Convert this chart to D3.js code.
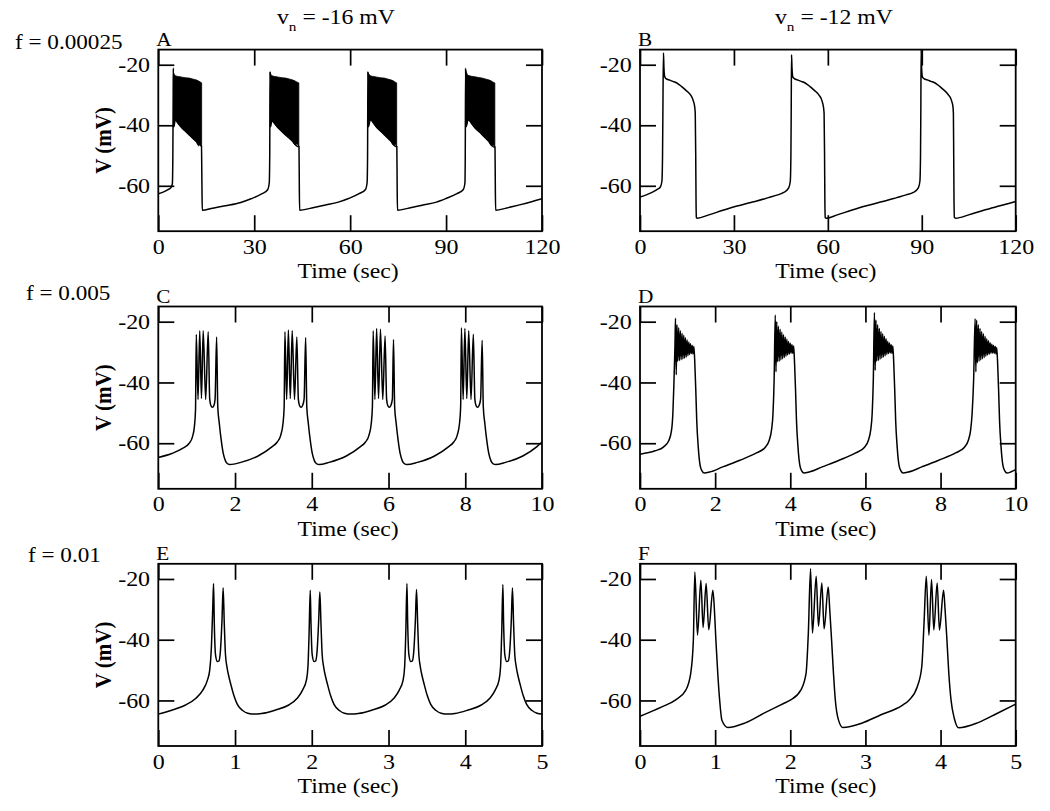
<!DOCTYPE html>
<html><head><meta charset="utf-8">
<script src="https://cdn.jsdelivr.net/npm/d3@7"></script>
<style>
body{margin:0;background:#fff}
svg text{font-family:"Liberation Serif","Times New Roman",serif;fill:#000}
</style>
</head><body>
<svg id="chart" width="1050" height="811"></svg>
<script>
// ---------------- DATA ----------------
const yDomain = [-75, -15];
const yTicks = [-20, -40, -60];
const xDomainA = [0, 120], xTicksA = [0, 30, 60, 90, 120];
const xDomainC = [0, 10],  xTicksC = [0, 2, 4, 6, 8, 10];
const xDomainE = [0, 5],   xTicksE = [0, 1, 2, 3, 4, 5];
const panelLetters = ["A", "B", "C", "D", "E", "F"];
const rowLabels = ["f = 0.00025", "f = 0.005", "f = 0.01"];
const columnTitles = ["-16 mV", "-12 mV"];

// Panel A: [time (s), V (mV)]
const traceA = [
 [0,-62.6],[1.5,-62.1],[3,-61.3],[4.0,-60.5],[4.4,-59.3],[4.55,-50],[4.65,-30],[4.7,-21.1],[4.85,-40.5],[5.3,-38.3],[6.3,-39.5],[7.4,-40.9],[8.5,-42.0],[9.6,-43.1],[10.7,-44.2],[11.8,-45.3],[12.8,-46.3],[13.5,-47.0],[13.65,-60],[13.75,-68.1],
 [17,-67.4],[21,-66.6],[25.8,-65.5],[29,-64.3],[32.3,-62.7],[34.2,-61.3],[34.7,-59.0],[34.85,-50],[34.95,-22.2],[35.1,-40.5],[35.5,-38.6],[37.6,-41.0],[39.8,-43.2],[41.9,-45.2],[43.6,-47.0],[44.0,-47.0],[44.1,-60],[44.2,-68.1],
 [48,-67.3],[52,-66.4],[56.3,-65.4],[59.5,-64.2],[62.8,-62.6],[64.8,-61.2],[65.3,-59.0],[65.45,-50],[65.55,-22.2],[65.7,-40.5],[66.3,-38.2],[68.4,-40.8],[70.6,-43.0],[72.7,-45.2],[74.3,-47.0],[74.6,-47.0],[74.7,-60],[74.8,-68.1],
 [78.5,-67.3],[82.5,-66.4],[87,-65.4],[90,-64.2],[93.4,-62.6],[95.4,-61.2],[95.9,-59.0],[96.0,-50],[96.1,-21.1],[96.25,-40.5],[96.9,-38.2],[99,-40.8],[101.2,-43.0],[103.3,-45.3],[105.0,-47.2],[105.3,-47.2],[105.4,-60],[105.5,-68.1],
 [109,-67.3],[113,-66.3],[117,-65.2],[120,-64.3]
];
// Panel A dense spiking bursts: [time, upper envelope, lower envelope]
const burstA1 = [[4.75,-22.5,-40.0],[5.3,-23.6,-38.3],[6.3,-23.9,-39.6],[7.4,-24.1,-40.9],[8.5,-24.3,-42.1],[9.6,-24.4,-43.1],[10.7,-24.7,-44.3],[11.8,-25.0,-45.4],[12.6,-25.4,-46.8],[13.0,-25.6,-46.3],[13.55,-26.0,-47.2]];
const burstA2 = [[35.0,-22.6,-40.2],[35.5,-23.6,-38.6],[36.5,-23.9,-39.8],[37.6,-24.1,-41.0],[38.7,-24.3,-42.1],[39.8,-24.4,-43.2],[40.9,-24.7,-44.2],[41.9,-25.0,-45.2],[42.8,-25.4,-46.5],[43.3,-25.7,-46.2],[43.95,-26.0,-47.0]];
const burstA3 = [[65.6,-22.6,-40.0],[66.3,-23.6,-38.2],[67.3,-23.9,-39.5],[68.4,-24.1,-40.8],[69.5,-24.3,-41.9],[70.6,-24.4,-43.0],[71.7,-24.7,-44.1],[72.7,-25.0,-45.2],[73.6,-25.4,-46.6],[74.0,-25.7,-46.3],[74.55,-26.0,-47.0]];
const burstA4 = [[96.15,-21.8,-40.0],[96.9,-23.5,-38.2],[97.9,-23.8,-39.5],[99.0,-24.0,-40.8],[100.1,-24.2,-41.9],[101.2,-24.4,-43.0],[102.3,-24.7,-44.2],[103.3,-25.0,-45.3],[104.2,-25.4,-46.8],[104.6,-25.7,-46.5],[105.25,-26.0,-47.2]];

const traceB = [
 [0,-63.7],[2,-63.0],[4,-62.1],[5.5,-61.2],[6.5,-60.4],[7.0,-58.5],[7.2,-50],[7.35,-30],[7.5,-16.1],[7.65,-21],[7.9,-24.0],[8.3,-24.6],[9.5,-25.1],[10.5,-25.5],[11.3,-25.8],[12.5,-26.6],[13.5,-27.4],[14.6,-28.4],[15.7,-29.4],[16.3,-30.2],[16.7,-31.0],[17.1,-32.2],[17.4,-33.4],[17.65,-36],[17.8,-50],[17.9,-65],[18.0,-70.5],[18.3,-70.7],
 [22,-69.6],[26.5,-68.1],[31,-66.7],[35,-65.6],[37.3,-65.0],[41,-63.9],[44,-63.0],[45.9,-62.2],[47.5,-60.7],[48.0,-58.5],[48.2,-50],[48.3,-35],[48.4,-16.7],[48.55,-21],[48.8,-24.0],[49.3,-24.6],[50.5,-25.1],[51.5,-25.5],[52.3,-25.8],[53.5,-26.6],[54.5,-27.4],[55.6,-28.4],[56.7,-29.4],[57.3,-30.2],[57.8,-31.0],[58.2,-32.2],[58.5,-33.4],[58.8,-36],[58.95,-50],[59.05,-65],[59.15,-70.5],[59.5,-70.7],
 [63,-69.6],[67.5,-68.1],[72,-66.7],[76,-65.6],[79,-64.8],[82,-63.9],[85,-63.0],[87.3,-62.2],[88.9,-60.7],[89.4,-58.5],[89.6,-50],[89.7,-35],[89.8,-15.0],[89.95,-21],[90.2,-24.0],[90.7,-24.6],[92,-25.1],[93,-25.5],[93.8,-25.8],[95,-26.6],[96,-27.4],[97.1,-28.4],[98.1,-29.4],[98.7,-30.2],[99.2,-31.0],[99.6,-32.2],[99.9,-33.4],[100.1,-36],[100.2,-50],[100.3,-65],[100.4,-70.5],[100.8,-70.7],
 [105,-69.6],[110,-68.0],[115,-66.6],[120,-65.2]
];

const traceC = [
 [0,-64.7],[0.35,-63.4],[0.62,-61.8],[0.8,-60.1],[0.89,-57.9],[0.94,-54.6],[0.97,-49],
 [0.99,-24.2],[1.035,-45.6],[1.08,-23.0],[1.125,-45.3],[1.17,-23.0],[1.235,-45.6],[1.30,-23.3],[1.34,-45.5],[1.37,-47.6],[1.41,-48.2],[1.45,-47.6],[1.48,-45.5],[1.52,-25.0],
 [1.55,-48.0],[1.59,-53.5],[1.64,-59.0],[1.69,-63.2],[1.75,-65.8],[1.81,-66.8],[1.87,-67.0],
 [2.15,-66.3],[2.6,-64.2],[2.96,-61.2],[3.1,-59.6],[3.19,-57.4],[3.25,-53.5],[3.28,-48],
 [3.30,-23.3],[3.345,-45.6],[3.39,-22.7],[3.44,-45.3],[3.49,-23.0],[3.55,-45.6],[3.61,-25.0],[3.65,-45.5],[3.68,-47.6],[3.72,-48.2],[3.76,-47.6],[3.80,-45.5],[3.84,-25.2],
 [3.87,-48.0],[3.91,-53.5],[3.96,-59.0],[4.01,-63.2],[4.07,-65.8],[4.13,-66.8],[4.19,-67.0],
 [4.45,-66.3],[4.9,-64.2],[5.26,-61.2],[5.4,-59.6],[5.49,-57.4],[5.55,-53.5],[5.58,-48],
 [5.60,-23.0],[5.645,-45.6],[5.69,-22.2],[5.74,-45.3],[5.79,-22.5],[5.85,-45.6],[5.91,-24.7],[5.95,-45.5],[5.98,-47.6],[6.02,-48.2],[6.06,-47.6],[6.10,-45.5],[6.13,-25.9],
 [6.16,-48.0],[6.20,-53.5],[6.25,-59.0],[6.30,-63.2],[6.36,-65.8],[6.42,-66.8],[6.48,-67.0],
 [6.75,-66.3],[7.2,-64.2],[7.56,-61.2],[7.7,-59.6],[7.79,-57.4],[7.85,-53.5],[7.88,-48],
 [7.90,-22.0],[7.945,-45.6],[7.99,-22.2],[8.04,-45.3],[8.09,-23.0],[8.15,-45.6],[8.21,-24.1],[8.25,-45.5],[8.28,-47.6],[8.32,-48.2],[8.36,-47.6],[8.40,-45.5],[8.44,-26.1],
 [8.47,-48.0],[8.51,-53.5],[8.56,-59.0],[8.61,-63.2],[8.67,-65.8],[8.73,-66.8],[8.79,-67.0],
 [9.05,-66.3],[9.5,-64.2],[9.86,-61.2],[10,-59.6]
];

const traceD = [
 [0,-63.6],[0.4,-62.5],[0.63,-61.2],[0.765,-59.2],[0.84,-55.7],[0.875,-50.2],[0.9,-41.4],[0.93,-28.2],
 [0.945,-18.9],[0.965,-37.5],[0.985,-21.0],[1.005,-33.0],[1.03,-22.0],[1.05,-32.8],[1.075,-23.0],[1.095,-32.5],[1.12,-23.8],[1.14,-32.3],[1.165,-24.5],[1.185,-32.0],[1.21,-25.3],[1.23,-31.6],[1.255,-26.0],[1.275,-31.2],[1.30,-26.7],[1.32,-30.8],[1.345,-27.3],[1.365,-30.5],[1.39,-27.8],[1.41,-30.6],[1.435,-28.2],
 [1.46,-34],[1.485,-42.5],[1.51,-52.5],[1.55,-61.2],[1.6,-67.3],[1.65,-69.1],[1.71,-69.8],[1.85,-69.5],[2.2,-67.8],[2.66,-65.6],[3.1,-63.2],[3.33,-61.4],[3.44,-59],[3.5,-55.7],[3.54,-50.2],[3.57,-39.2],
 [3.6,-17.8],[3.62,-36.5],[3.64,-20.0],[3.66,-33.2],[3.685,-21.5],[3.705,-33.0],[3.73,-22.5],[3.75,-32.6],[3.775,-23.4],[3.795,-32.2],[3.82,-24.3],[3.84,-31.8],[3.865,-25.0],[3.885,-31.4],[3.91,-25.8],[3.93,-31.0],[3.955,-26.5],[3.975,-30.6],[4.0,-27.1],[4.02,-30.4],[4.045,-27.6],[4.065,-30.4],[4.09,-28.0],
 [4.115,-34],[4.14,-42.5],[4.165,-52.5],[4.205,-61.2],[4.255,-67.3],[4.305,-69.1],[4.365,-69.8],[4.5,-69.5],[4.85,-67.8],[5.3,-65.6],[5.74,-63.2],[5.97,-61.4],[6.08,-59],[6.14,-55.7],[6.18,-50.2],[6.21,-39.2],
 [6.24,-17.0],[6.26,-36.0],[6.28,-19.5],[6.30,-33.0],[6.325,-21.0],[6.345,-32.8],[6.37,-22.2],[6.39,-32.4],[6.415,-23.2],[6.435,-32.0],[6.46,-24.0],[6.48,-31.6],[6.505,-24.8],[6.525,-31.2],[6.55,-25.6],[6.57,-30.8],[6.595,-26.4],[6.615,-30.5],[6.64,-27.0],[6.66,-30.3],[6.685,-27.6],[6.705,-30.4],[6.73,-28.0],
 [6.755,-34],[6.78,-42.5],[6.805,-52.5],[6.845,-61.2],[6.895,-67.3],[6.945,-69.1],[7.005,-69.8],[7.14,-69.5],[7.5,-67.8],[7.95,-65.6],[8.4,-63.2],[8.63,-61.4],[8.74,-59],[8.8,-55.7],[8.84,-50.2],[8.88,-39.2],
 [8.92,-19.0],[8.94,-36.5],[8.96,-19.5],[8.98,-33.5],[9.005,-21.0],[9.025,-33.0],[9.05,-22.2],[9.07,-32.6],[9.095,-23.2],[9.115,-32.2],[9.14,-24.0],[9.16,-31.8],[9.185,-24.8],[9.205,-31.4],[9.23,-25.6],[9.25,-31.0],[9.275,-26.3],[9.295,-30.7],[9.32,-26.9],[9.34,-30.4],[9.365,-27.4],[9.385,-30.3],[9.41,-27.8],[9.43,-30.4],[9.455,-28.2],[9.475,-30.6],[9.495,-28.6],
 [9.52,-34],[9.545,-42.5],[9.57,-52.5],[9.61,-61.2],[9.66,-67.3],[9.71,-69.1],[9.77,-69.8],[9.88,-69.4],[10,-68.7]
];

const traceE = [
 [0,-64.5],[0.175,-63.2],[0.355,-61.5],[0.49,-59.3],[0.58,-56.6],[0.64,-53.3],[0.67,-50],[0.69,-43.4],[0.71,-29.2],
 [0.72,-21.5],[0.73,-34.9],[0.745,-44.8],[0.77,-47.2],[0.79,-47.0],[0.81,-43.5],[0.83,-33.6],[0.845,-23.0],[0.86,-34.9],[0.875,-44.8],[0.895,-49],[0.92,-52.2],[0.95,-55.2],[0.985,-58.4],[1.03,-61.3],[1.1,-63.3],[1.165,-64.2],[1.255,-64.5],[1.345,-64.3],
 [1.52,-63.2],[1.70,-61.5],[1.81,-59.3],[1.88,-56.6],[1.93,-53.3],[1.95,-48.9],[1.965,-37.9],
 [1.98,-23.7],[1.99,-34.9],[2.005,-44.8],[2.03,-47.2],[2.05,-47.0],[2.07,-43.5],[2.09,-33.6],[2.105,-24.3],[2.12,-34.9],[2.135,-44.8],[2.155,-49],[2.18,-52.2],[2.21,-55.2],[2.245,-58.4],[2.29,-61.3],[2.36,-63.3],[2.425,-64.2],[2.515,-64.5],[2.605,-64.3],
 [2.78,-63.2],[2.96,-61.5],[3.07,-59.3],[3.14,-56.6],[3.19,-53.3],[3.21,-48.9],[3.225,-37.9],
 [3.24,-21.5],[3.25,-34.9],[3.265,-44.8],[3.29,-47.2],[3.31,-47.0],[3.33,-43.5],[3.35,-33.6],[3.365,-23.5],[3.38,-34.9],[3.395,-44.8],[3.415,-49],[3.44,-52.2],[3.47,-55.2],[3.505,-58.4],[3.55,-61.3],[3.62,-63.3],[3.685,-64.2],[3.775,-64.5],[3.865,-64.3],
 [4.03,-63.2],[4.21,-61.5],[4.32,-59.3],[4.39,-56.6],[4.44,-53.3],[4.46,-48.9],[4.475,-37.9],
 [4.49,-21.8],[4.50,-34.9],[4.515,-44.8],[4.54,-47.2],[4.56,-47.0],[4.58,-43.5],[4.60,-33.6],[4.615,-23.0],[4.63,-34.9],[4.645,-44.8],[4.665,-49],[4.69,-52.2],[4.72,-55.2],[4.755,-58.4],[4.8,-61.3],[4.87,-63.3],[4.935,-64.2],[5,-64.5]
];

const traceF = [
 [0,-65.2],[0.29,-62.1],[0.47,-59.9],[0.61,-56.6],[0.675,-51.1],[0.71,-40.2],
 [0.73,-17.7],[0.765,-38.5],[0.81,-20.4],[0.84,-36.0],[0.88,-21.5],[0.915,-36.7],[0.97,-23.7],[0.99,-30],[1.01,-40.2],[1.035,-51.1],[1.06,-59.9],[1.09,-66.5],[1.17,-68.9],
 [1.4,-67.4],[1.65,-64.2],[1.91,-61.0],[2.0,-59.9],[2.14,-56.6],[2.21,-51.1],[2.24,-38.0],
 [2.27,-16.6],[2.295,-37.8],[2.345,-19.1],[2.375,-35.6],[2.42,-21.3],[2.45,-36.4],[2.505,-22.6],[2.525,-30],[2.55,-40.2],[2.575,-51.1],[2.6,-60.0],[2.64,-66.3],[2.7,-68.9],
 [2.95,-67.5],[3.2,-64.8],[3.49,-61.6],[3.58,-59.9],[3.69,-55.5],[3.75,-48.9],[3.78,-34.6],
 [3.81,-19.1],[3.845,-38.5],[3.88,-20.2],[3.91,-36.8],[3.955,-21.3],[3.985,-36.8],[4.04,-23.7],[4.06,-30],[4.085,-40.2],[4.11,-51.1],[4.14,-60.0],[4.185,-66.1],[4.24,-69.0],
 [4.5,-67.3],[4.75,-64.3],[5,-61.2]
];

// ---------------- DRAWING ----------------
const svg = d3.select("#chart");
const cols = [{x0:158.3, x1:542}, {x0:640, x1:1015.7}];
const rows = [{top:49.6, bottom:231.2}, {top:306.5, bottom:488.8}, {top:563.8, bottom:746}];
const rowLabelPos = [{x:15, y:49}, {x:26, y:300}, {x:28, y:562}];

const panels = [
 {row:0, col:0, data:traceA, bands:[burstA1,burstA2,burstA3,burstA4], xd:xDomainA, xt:xTicksA},
 {row:0, col:1, data:traceB, bands:[], xd:xDomainA, xt:xTicksA},
 {row:1, col:0, data:traceC, bands:[], xd:xDomainC, xt:xTicksC},
 {row:1, col:1, data:traceD, bands:[], xd:xDomainC, xt:xTicksC},
 {row:2, col:0, data:traceE, bands:[], xd:xDomainE, xt:xTicksE},
 {row:2, col:1, data:traceF, bands:[], xd:xDomainE, xt:xTicksE}
];

function styleAxis(g, labelled) {
  g.attr("font-family", null).attr("font-size", 20.5);
  g.select(".domain").remove();
  g.selectAll(".tick line").attr("stroke", "#000").attr("stroke-width", 1.7);
  if (labelled) g.selectAll(".tick text").attr("transform", "scale(1.17,1)").attr("fill", "#000");
  else g.selectAll(".tick text").remove();
}

const defs = svg.append("defs");
panels.forEach((p, i) => {
  const c = cols[p.col], r = rows[p.row];
  const x = d3.scaleLinear().domain(p.xd).range([c.x0, c.x1]);
  const y = d3.scaleLinear().domain(yDomain).range([r.bottom, r.top]);
  defs.append("clipPath").attr("id", "clip" + i).append("rect")
    .attr("x", c.x0).attr("y", r.top).attr("width", c.x1 - c.x0).attr("height", r.bottom - r.top);
  const g = svg.append("g");
  const plot = g.append("g").attr("clip-path", `url(#clip${i})`);
  const area = d3.area().curve(d3.curveMonotoneX).x(d => x(d[0])).y0(d => y(d[2])).y1(d => y(d[1]));
  p.bands.forEach(b => plot.append("path").attr("d", area(b))
      .attr("fill", "#000").attr("stroke", "#000").attr("stroke-width", 0.8));
  const line = d3.line().curve(d3.curveMonotoneX).x(d => x(d[0])).y(d => y(d[1]));
  plot.append("path").attr("d", line(p.data)).attr("fill", "none")
    .attr("stroke", "#000").attr("stroke-width", 1.5).attr("stroke-linejoin", "round");

  const fmt = d => String(d);
  g.append("g").attr("transform", `translate(0,${r.bottom})`)
    .call(d3.axisBottom(x).tickValues(p.xt).tickSizeInner(-16).tickSizeOuter(0).tickPadding(8).tickFormat(fmt))
    .call(s => styleAxis(s, true));
  g.append("g").attr("transform", `translate(0,${r.top})`)
    .call(d3.axisTop(x).tickValues(p.xt).tickSizeInner(-16).tickSizeOuter(0))
    .call(s => styleAxis(s, false));
  g.append("g").attr("transform", `translate(${c.x0},0)`)
    .call(d3.axisLeft(y).tickValues(yTicks).tickSizeInner(-16).tickSizeOuter(0).tickPadding(7).tickFormat(fmt))
    .call(s => styleAxis(s, true));
  g.append("g").attr("transform", `translate(${c.x1},0)`)
    .call(d3.axisRight(y).tickValues(yTicks).tickSizeInner(-16).tickSizeOuter(0))
    .call(s => styleAxis(s, false));

  g.append("rect").attr("x", c.x0).attr("y", r.top).attr("width", c.x1 - c.x0).attr("height", r.bottom - r.top)
    .attr("fill", "none").attr("stroke", "#000").attr("stroke-width", 1.8);

  // axis title
  g.append("text").attr("text-anchor", "middle").attr("font-size", 21)
    .attr("transform", `translate(${(c.x0 + c.x1) / 2 - 2},${r.bottom + 47}) scale(1.13,1)`)
    .text("Time (sec)");
  // panel letter
  g.append("text").attr("text-anchor", "start").attr("font-size", 19)
    .attr("transform", `translate(${c.x0 - 2},${r.top - 3.5}) scale(1.12,1)`)
    .text(panelLetters[i]);
  if (p.col === 0) {
    g.append("text").attr("text-anchor", "middle").attr("font-size", 21).attr("font-weight", "bold")
      .attr("transform", `translate(111,${(r.top + r.bottom) / 2}) scale(1.12,1) rotate(-90)`)
      .text("V (mV)");
  }
});

// row labels
rowLabels.forEach((t, k) => {
  svg.append("text").attr("font-size", 20.5)
    .attr("transform", `translate(${rowLabelPos[k].x},${rowLabelPos[k].y}) scale(1.13,1)`)
    .text(t);
});
// column titles: v_n = ...
const titleX = [277, 775];
columnTitles.forEach((t, k) => {
  const tx = svg.append("text").attr("font-size", 21)
    .attr("transform", `translate(${titleX[k]},24) scale(1.13,1)`);
  tx.append("tspan").text("v");
  tx.append("tspan").attr("font-size", 13.5).attr("dy", 7).text("n");
  tx.append("tspan").attr("dy", -7).text(" = " + t);
});
</script>
</body></html>
